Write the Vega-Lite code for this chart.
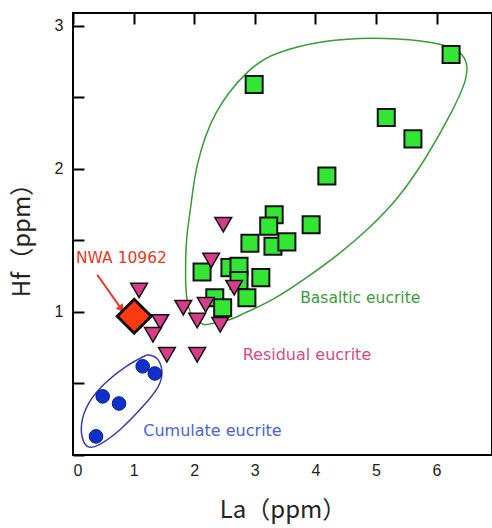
{
  "$schema": "https://vega.github.io/schema/vega-lite/v6.json",
  "width": 419,
  "height": 442,
  "autosize": {"type": "none"},
  "padding": {"left": 73, "top": 13, "right": 0, "bottom": 73},
  "background": "white",
  "config": {
    "view": {"stroke": "black", "strokeWidth": 2},
    "axis": {
      "ticks": false, "domain": false, "grid": true, "gridDash": [11, 2000], "gridColor": "black", "gridWidth": 2, "gridOpacity": 1,
      "labelFont": "Liberation Sans", "labelFontSize": 16, "labelColor": "#222",
      "titleFont": "Noto Sans CJK JP", "titleFontSize": 24, "titleFontWeight": "normal", "titleColor": "#222"
    }
  },
  "datasets": {
    "pts": [
      {"type": "Basaltic", "La": 6.24, "Hf": 2.80},
      {"type": "Basaltic", "La": 2.99, "Hf": 2.59},
      {"type": "Basaltic", "La": 5.17, "Hf": 2.36},
      {"type": "Basaltic", "La": 5.61, "Hf": 2.21},
      {"type": "Basaltic", "La": 4.19, "Hf": 1.95},
      {"type": "Basaltic", "La": 3.93, "Hf": 1.61},
      {"type": "Basaltic", "La": 3.32, "Hf": 1.68},
      {"type": "Basaltic", "La": 3.23, "Hf": 1.60},
      {"type": "Basaltic", "La": 2.92, "Hf": 1.48},
      {"type": "Basaltic", "La": 3.30, "Hf": 1.46},
      {"type": "Basaltic", "La": 3.53, "Hf": 1.49},
      {"type": "Basaltic", "La": 2.13, "Hf": 1.28},
      {"type": "Basaltic", "La": 2.59, "Hf": 1.31},
      {"type": "Basaltic", "La": 2.74, "Hf": 1.32},
      {"type": "Basaltic", "La": 2.74, "Hf": 1.22},
      {"type": "Basaltic", "La": 3.10, "Hf": 1.24},
      {"type": "Basaltic", "La": 2.34, "Hf": 1.10},
      {"type": "Basaltic", "La": 2.87, "Hf": 1.10},
      {"type": "Basaltic", "La": 2.47, "Hf": 1.03},
      {"type": "Residual", "La": 2.48, "Hf": 1.61},
      {"type": "Residual", "La": 2.28, "Hf": 1.36},
      {"type": "Residual", "La": 2.66, "Hf": 1.17},
      {"type": "Residual", "La": 1.82, "Hf": 1.03},
      {"type": "Residual", "La": 2.19, "Hf": 1.05},
      {"type": "Residual", "La": 2.05, "Hf": 0.94},
      {"type": "Residual", "La": 2.43, "Hf": 0.91},
      {"type": "Residual", "La": 1.09, "Hf": 1.15},
      {"type": "Residual", "La": 1.44, "Hf": 0.93},
      {"type": "Residual", "La": 1.32, "Hf": 0.84},
      {"type": "Residual", "La": 1.55, "Hf": 0.70},
      {"type": "Residual", "La": 2.05, "Hf": 0.70},
      {"type": "Cumulate", "La": 0.49, "Hf": 0.41},
      {"type": "Cumulate", "La": 0.76, "Hf": 0.36},
      {"type": "Cumulate", "La": 1.15, "Hf": 0.62},
      {"type": "Cumulate", "La": 1.35, "Hf": 0.57},
      {"type": "Cumulate", "La": 0.38, "Hf": 0.13},
      {"type": "NWA", "La": 1.01, "Hf": 0.97}
    ],
    "green": [
      {"i": 0, "La": 2.18, "Hf": 0.91}, {"i": 1, "La": 1.98, "Hf": 0.94}, {"i": 2, "La": 1.85, "Hf": 1.08},
      {"i": 3, "La": 1.86, "Hf": 1.43}, {"i": 4, "La": 1.88, "Hf": 1.55}, {"i": 5, "La": 1.96, "Hf": 1.78},
      {"i": 6, "La": 2.02, "Hf": 2.01}, {"i": 7, "La": 2.31, "Hf": 2.41}, {"i": 8, "La": 2.92, "Hf": 2.71},
      {"i": 9, "La": 3.30, "Hf": 2.81}, {"i": 10, "La": 4.13, "Hf": 2.90}, {"i": 11, "La": 4.95, "Hf": 2.92},
      {"i": 12, "La": 5.78, "Hf": 2.90}, {"i": 13, "La": 6.34, "Hf": 2.85}, {"i": 14, "La": 6.52, "Hf": 2.75},
      {"i": 15, "La": 6.50, "Hf": 2.62}, {"i": 16, "La": 6.27, "Hf": 2.41}, {"i": 17, "La": 5.84, "Hf": 2.08},
      {"i": 18, "La": 5.35, "Hf": 1.78}, {"i": 19, "La": 4.85, "Hf": 1.57}, {"i": 20, "La": 4.41, "Hf": 1.41},
      {"i": 21, "La": 3.86, "Hf": 1.24}, {"i": 22, "La": 3.30, "Hf": 1.08}, {"i": 23, "La": 2.76, "Hf": 0.98},
      {"i": 24, "La": 2.59, "Hf": 0.94}, {"i": 25, "La": 2.18, "Hf": 0.91}
    ],
    "blue": [
      {"i": 0, "La": 1.22, "Hf": 0.70}, {"i": 1, "La": 1.40, "Hf": 0.69}, {"i": 2, "La": 1.49, "Hf": 0.59},
      {"i": 3, "La": 1.44, "Hf": 0.48}, {"i": 4, "La": 1.16, "Hf": 0.34}, {"i": 5, "La": 0.78, "Hf": 0.17},
      {"i": 6, "La": 0.45, "Hf": 0.07}, {"i": 7, "La": 0.25, "Hf": 0.04}, {"i": 8, "La": 0.15, "Hf": 0.10},
      {"i": 9, "La": 0.12, "Hf": 0.22}, {"i": 10, "La": 0.23, "Hf": 0.36}, {"i": 11, "La": 0.50, "Hf": 0.50},
      {"i": 12, "La": 0.89, "Hf": 0.63}, {"i": 13, "La": 1.22, "Hf": 0.70}
    ],
    "labels": [
      {"text": "Basaltic eucrite", "La": 3.75, "Hf": 1.10, "c": "Basaltic", "fs": 15.5},
      {"text": "Residual eucrite", "La": 2.80, "Hf": 0.70, "c": "Residual", "fs": 16},
      {"text": "Cumulate eucrite", "La": 1.16, "Hf": 0.17, "c": "Cumulate", "fs": 16},
      {"text": "NWA 10962", "La": 0.05, "Hf": 1.38, "c": "NWA", "fs": 15.5}
    ],
    "arrow": [{"La": 0.40, "Hf": 1.26, "La2": 0.80, "Hf2": 1.02}]
  },
  "layer": [
    {
      "data": {"name": "green"},
      "mark": {"type": "line", "color": "#3c9a3c", "strokeWidth": 1.5, "interpolate": "basis"},
      "encoding": {
        "x": {"field": "La", "type": "quantitative", "scale": {"domain": [0, 6.915], "nice": false, "zero": false},
              "axis": {"values": [0, 1, 2, 3, 4, 5, 6], "labelPadding": 7, "title": "La（ppm）", "titlePadding": 20, "format": "d"}},
        "y": {"field": "Hf", "type": "quantitative", "scale": {"domain": [0, 3.09], "nice": false},
              "axis": {"values": [0, 0.5, 1, 1.5, 2, 2.5, 3], "labelPadding": 10,
                       "labelExpr": "datum.value > 0 && datum.value % 1 == 0 ? datum.value : ''", "title": "Hf（ppm）", "titlePadding": 20}},
        "order": {"field": "i"}
      }
    },
    {
      "data": {"name": "blue"},
      "mark": {"type": "line", "color": "#3b3bb0", "strokeWidth": 1.5, "interpolate": "basis"},
      "encoding": {
        "x": {"field": "La", "type": "quantitative", "axis": {"orient": "top", "values": [1, 2, 3, 4, 5, 6], "labels": false, "title": null}},
        "y": {"field": "Hf", "type": "quantitative", "axis": {"orient": "right", "values": [0.5, 1, 1.5, 2, 2.5, 3], "labels": false, "title": null}},
        "order": {"field": "i"}
      }
    },
    {
      "data": {"name": "arrow"},
      "mark": {"type": "rule", "color": "#e8382a", "strokeWidth": 2},
      "encoding": {
        "x": {"field": "La", "type": "quantitative", "axis": null},
        "y": {"field": "Hf", "type": "quantitative", "axis": null},
        "x2": {"field": "La2"},
        "y2": {"field": "Hf2"}
      }
    },
    {
      "data": {"name": "arrow"},
      "mark": {"type": "point", "shape": "triangle-up", "filled": true, "color": "#e8382a", "size": 80, "angle": 145, "opacity": 1},
      "encoding": {
        "x": {"field": "La2", "type": "quantitative", "axis": null},
        "y": {"field": "Hf2", "type": "quantitative", "axis": null}
      }
    },
    {
      "data": {"name": "pts"},
      "transform": [{"filter": "datum.type == 'Basaltic'"}],
      "mark": {"type": "point", "shape": "square", "filled": true, "fill": "#33e633", "stroke": "#111", "strokeWidth": 2, "size": 290, "opacity": 1},
      "encoding": {
        "x": {"field": "La", "type": "quantitative", "axis": null},
        "y": {"field": "Hf", "type": "quantitative", "axis": null}
      }
    },
    {
      "data": {"name": "pts"},
      "transform": [{"filter": "datum.type == 'Residual'"}],
      "mark": {"type": "point", "shape": "triangle-down", "filled": true, "fill": "#d63c8a", "stroke": "#111", "strokeWidth": 1.5, "size": 280, "opacity": 1},
      "encoding": {
        "x": {"field": "La", "type": "quantitative", "axis": null},
        "y": {"field": "Hf", "type": "quantitative", "axis": null}
      }
    },
    {
      "data": {"name": "pts"},
      "transform": [{"filter": "datum.type == 'Cumulate'"}],
      "mark": {"type": "point", "shape": "circle", "filled": true, "fill": "#1030cc", "stroke": "#0a1a80", "strokeWidth": 1, "size": 185, "opacity": 1},
      "encoding": {
        "x": {"field": "La", "type": "quantitative", "axis": null},
        "y": {"field": "Hf", "type": "quantitative", "axis": null}
      }
    },
    {
      "data": {"name": "pts"},
      "transform": [{"filter": "datum.type == 'NWA'"}],
      "mark": {"type": "point", "shape": "diamond", "filled": true, "fill": "#ff3a10", "stroke": "#111", "strokeWidth": 3, "size": 1150, "opacity": 1},
      "encoding": {
        "x": {"field": "La", "type": "quantitative", "axis": null},
        "y": {"field": "Hf", "type": "quantitative", "axis": null}
      }
    },
    {
      "data": {"name": "labels"},
      "mark": {"type": "text", "align": "left", "baseline": "middle", "font": "DejaVu Sans"},
      "encoding": {
        "x": {"field": "La", "type": "quantitative", "axis": null},
        "y": {"field": "Hf", "type": "quantitative", "axis": null},
        "text": {"field": "text"},
        "size": {"field": "fs", "type": "quantitative", "scale": null, "legend": null},
        "color": {"field": "c", "type": "nominal", "legend": null,
                  "scale": {"domain": ["Basaltic", "Residual", "Cumulate", "NWA"], "range": ["#3c9a3c", "#d64a86", "#4a62d8", "#e8382a"]}}
      }
    }
  ],
  "resolve": {"axis": {"x": "independent", "y": "independent"}}
}
